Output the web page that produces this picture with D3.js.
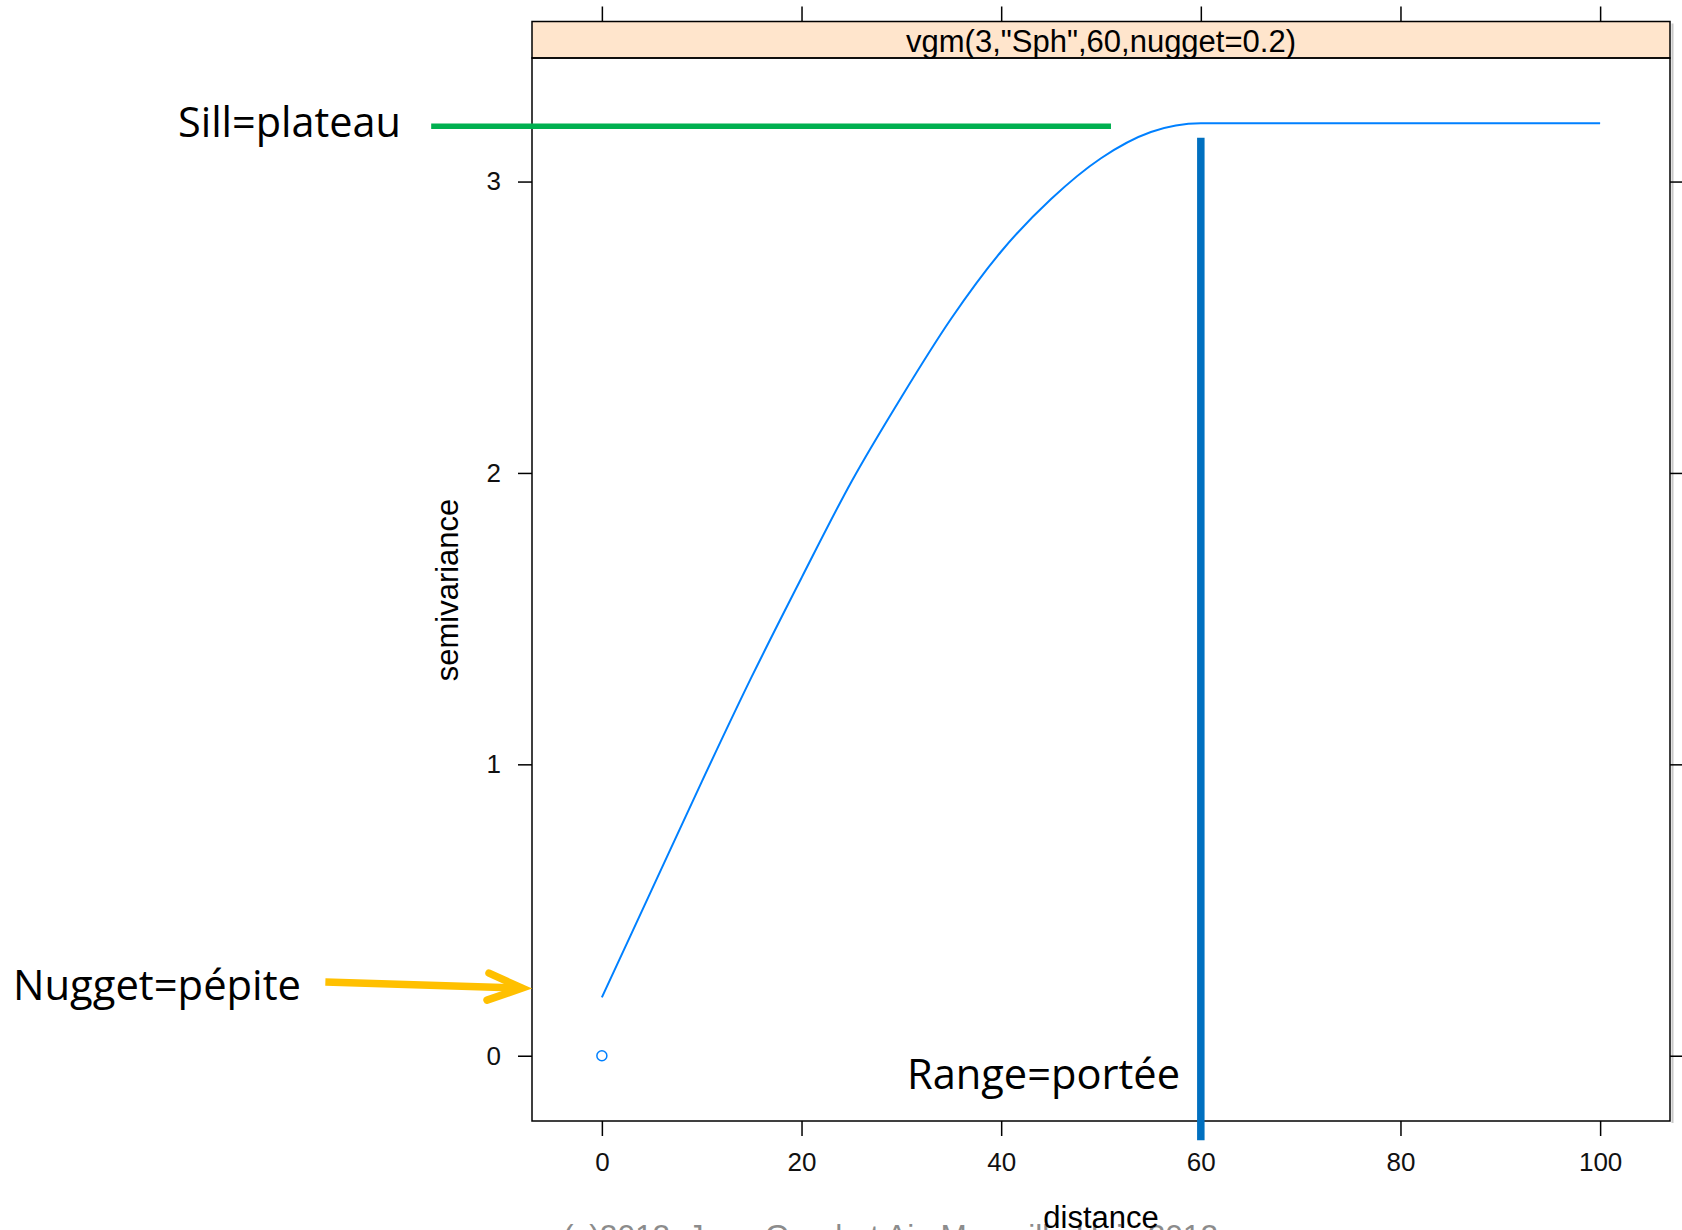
<!DOCTYPE html>
<meta charset="utf-8">
<style>
body { margin: 0; background: #fff; }
svg { display: block; }
.axis text { font-family: "Liberation Sans", Arial, sans-serif; font-size: 26px; fill: #111; }
.lab { font-family: "Liberation Sans", Arial, sans-serif; font-size: 31px; fill: #000; }
.note { font-family: "Open Sans", "Noto Sans", sans-serif; font-size: 42px; fill: #000; }
</style>
<body>
<script src="https://d3js.org/d3.v7.min.js"></script>
<script>

// values
var distance = [0, 5, 10, 15, 20, 25, 30, 35, 40, 45, 50, 55, 60, 100];
var semivar  = [0.20, 0.57, 0.94, 1.30, 1.64, 1.97, 2.26, 2.53, 2.76, 2.94, 3.08, 3.17, 3.20, 3.20];
var pointX = [0], pointY = [0];
var xTicks = [0, 20, 40, 60, 80, 100];
var yTicks = [0, 1, 2, 3];
var title = 'vgm(3,"Sph",60,nugget=0.2)';
var sill = 3.2, range = 60, nugget = 0.2;

var W = 1682, H = 1230;
var pL = 532, pR = 1670, pT = 58, pB = 1121, stripTop = 21.5;

var svg = d3.select("body").append("svg")
  .attr("width", W).attr("height", H);

var x = d3.scaleLinear().domain([-7, 107]).range([pL, pR]);
var y = d3.scaleLinear().domain([-0.224, 3.424]).range([pB, pT]);

// light shadow on the right edge
svg.append("line")
  .attr("x1", pR + 2.5).attr("x2", pR + 2.5)
  .attr("y1", stripTop + 2).attr("y2", pB + 2)
  .attr("stroke", "#c8c8c8").attr("stroke-width", 2);

// strip
svg.append("rect")
  .attr("x", pL).attr("y", stripTop)
  .attr("width", pR - pL).attr("height", pT - stripTop)
  .attr("fill", "#ffe5cc").attr("stroke", "#000").attr("stroke-width", 1.5);
svg.append("text")
  .attr("class", "lab")
  .attr("x", (pL + pR) / 2).attr("y", pT - 6)
  .attr("text-anchor", "middle")
  .attr("textLength", 390).attr("lengthAdjust", "spacingAndGlyphs")
  .text(title);

// panel
svg.append("rect")
  .attr("x", pL).attr("y", pT)
  .attr("width", pR - pL).attr("height", pB - pT)
  .attr("fill", "none").attr("stroke", "#000").attr("stroke-width", 1.5);

// axes
function style(g) {
  g.select(".domain").remove();
  g.selectAll(".tick line").attr("stroke", "#000").attr("stroke-width", 1.5);
}
svg.append("g").attr("class", "axis")
  .attr("transform", "translate(0," + pB + ")")
  .call(d3.axisBottom(x).tickValues(xTicks).tickSize(15).tickPadding(17))
  .call(style);
svg.append("g").attr("class", "axis")
  .attr("transform", "translate(0," + stripTop + ")")
  .call(d3.axisTop(x).tickValues(xTicks).tickSize(15).tickFormat(""))
  .call(style);
svg.append("g").attr("class", "axis")
  .attr("transform", "translate(" + pL + ",0)")
  .call(d3.axisLeft(y).tickValues(yTicks).tickFormat(d3.format("d")).tickSize(14).tickPadding(17))
  .call(style);
svg.append("g").attr("class", "axis")
  .attr("transform", "translate(" + pR + ",0)")
  .call(d3.axisRight(y).tickValues(yTicks).tickSize(14).tickFormat(""))
  .call(style);

// axis labels
svg.append("text").attr("class", "lab")
  .attr("transform", "translate(458,590) rotate(-90)")
  .attr("text-anchor", "middle")
  .text("semivariance");

// faint copyright line, mostly cut by the page bottom
svg.append("text")
  .attr("x", 563).attr("y", 1247)
  .attr("font-family", "Liberation Sans, Arial, sans-serif")
  .attr("font-size", 31).attr("fill", "#8c8c8c")
  .attr("textLength", 655).attr("lengthAdjust", "spacingAndGlyphs")
  .text("(c)2012, Jean Gaudart Aix-Marseille Univ 2012");

svg.append("text").attr("class", "lab")
  .attr("x", (pL + pR) / 2).attr("y", 1228)
  .attr("text-anchor", "middle")
  .text("distance");

// model curve
var pts = distance.map(function(d, i) { return [d, semivar[i]]; });
svg.append("path")
  .datum(pts)
  .attr("fill", "none")
  .attr("stroke", "#0080ff")
  .attr("stroke-width", 2)
  .attr("d", d3.line()
    .x(function(d) { return x(d[0]); })
    .y(function(d) { return y(d[1]); })
    .curve(d3.curveMonotoneX));

svg.selectAll(".pt")
  .data(pointX)
  .enter().append("circle")
  .attr("cx", function(d) { return x(d); })
  .attr("cy", function(d, i) { return y(pointY[i]); })
  .attr("r", 5)
  .attr("fill", "none").attr("stroke", "#0080ff").attr("stroke-width", 1.5);

// annotations
svg.append("line")
  .attr("x1", x(-17.1)).attr("x2", x(51))
  .attr("y1", y(sill - 0.01)).attr("y2", y(sill - 0.01))
  .attr("stroke", "#00b050").attr("stroke-width", 5.5);
svg.append("text").attr("class", "note")
  .attr("x", 178).attr("y", 137)
  .attr("textLength", 223).attr("lengthAdjust", "spacingAndGlyphs")
  .text("Sill=plateau");

svg.append("line")
  .attr("x1", x(range)).attr("x2", x(range))
  .attr("y1", y(3.15)).attr("y2", y(-0.29))
  .attr("stroke", "#0070c0").attr("stroke-width", 7.5);
svg.append("text").attr("class", "note")
  .attr("x", 907).attr("y", 1089)
  .attr("textLength", 273).attr("lengthAdjust", "spacingAndGlyphs")
  .text("Range=portée");

var tip = [x(-8.0), y(nugget + 0.032)];
svg.append("line")
  .attr("x1", x(-27.7)).attr("y1", y(nugget + 0.053))
  .attr("x2", tip[0] - 4).attr("y2", tip[1])
  .attr("stroke", "#ffc000").attr("stroke-width", 7.5);
svg.append("path")
  .attr("d", "M" + (tip[0] - 33) + "," + (tip[1] - 15) + "L" + tip[0] + "," + tip[1] +
             "L" + (tip[0] - 35) + "," + (tip[1] + 12))
  .attr("fill", "none").attr("stroke", "#ffc000").attr("stroke-width", 7.5)
  .attr("stroke-linecap", "round").attr("stroke-linejoin", "miter");
svg.append("text").attr("class", "note")
  .attr("x", 13).attr("y", 1000)
  .attr("textLength", 288).attr("lengthAdjust", "spacingAndGlyphs")
  .text("Nugget=pépite");

</script>
</body>
